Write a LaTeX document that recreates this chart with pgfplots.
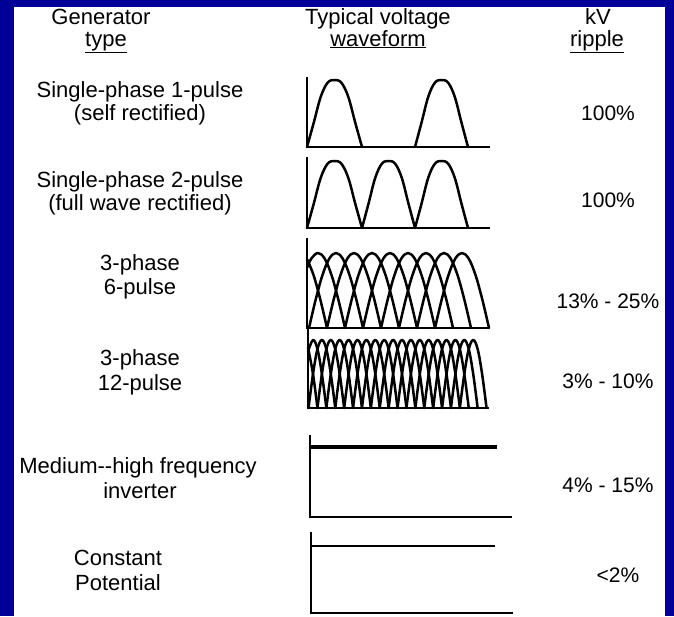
\documentclass[border=0pt]{standalone}
\usepackage{pgfplots}
\pgfplotsset{compat=1.18}
\usepackage{fontspec}
\setmainfont{Liberation Sans}
\definecolor{frameblue}{RGB}{0,0,153}
\begin{document}
\begin{tikzpicture}
\begin{axis}[
  x=1pt, y=1pt, y dir=reverse,
  xmin=0, xmax=674, ymin=0, ymax=616,
  hide axis, clip=false,
  axln/.style={black, line width=2.6pt, mark=none, line join=miter, line cap=butt},
  wave/.style={black, mark=none, smooth, tension=0.6, line width=2.5pt, line join=round, line cap=round},
]
% frame
\fill[frameblue] (axis cs:0,0) rectangle (axis cs:674,616);
\fill[white] (axis cs:14,7) rectangle (axis cs:665,616);

\pgfkeys{/tikz/lbl/.style={anchor=base, font=\fontsize{22}{24}\selectfont}}
\pgfkeys{/tikz/rlbl/.style={anchor=base, font=\fontsize{21}{24}\selectfont}}

% headers
\node[lbl] at (axis cs:101,24) {Generator};
\node[lbl] at (axis cs:106,46) {\underline{type}};
\node[lbl] at (axis cs:378,24) {Typical voltage};
\node[lbl] at (axis cs:378,46) {\underline{waveform}};
\node[lbl] at (axis cs:598,24) {kV};
\node[lbl] at (axis cs:597,46) {\underline{ripple}};

% left labels
\node[lbl] at (axis cs:140,97) {Single-phase 1-pulse};
\node[lbl] at (axis cs:140,120) {(self rectified)};
\node[lbl] at (axis cs:140,187) {Single-phase 2-pulse};
\node[lbl] at (axis cs:140,210) {(full wave rectified)};
\node[lbl] at (axis cs:140,270) {3-phase};
\node[lbl] at (axis cs:140,294) {6-pulse};
\node[lbl] at (axis cs:140,365) {3-phase};
\node[lbl] at (axis cs:140,390) {12-pulse};
\node[lbl] at (axis cs:138,473) {Medium-{}-high frequency};
\node[lbl] at (axis cs:140,498) {inverter};
\node[lbl] at (axis cs:118,565) {Constant};
\node[lbl] at (axis cs:118,590) {Potential};

% ripple
\node[rlbl] at (axis cs:608,120) {100\%};
\node[rlbl] at (axis cs:608,207) {100\%};
\node[rlbl] at (axis cs:608,308) {13\% - 25\%};
\node[rlbl] at (axis cs:608,388) {3\% - 10\%};
\node[rlbl] at (axis cs:608,492) {4\% - 15\%};
\node[rlbl] at (axis cs:618,582) {<2\%};

% ---------- panel 1: single-phase 1-pulse ----------
\addplot[axln] coordinates {(307,77) (307,147) (490,147)};
\addplot[wave] coordinates {(307,147) (313.875,122.2) (320.75,96.75) (327.625,82.7) (334.5,80) (341.375,82.7) (348.25,96.75) (355.125,122.2) (362,147)};
\addplot[wave] coordinates {(415,147) (421.625,122.2) (428.25,96.75) (434.875,82.7) (441.5,80) (448.125,82.7) (454.75,96.75) (461.375,122.2) (468,147)};

% ---------- panel 2: single-phase 2-pulse ----------
\addplot[axln] coordinates {(307,157) (307,228) (490,228)};
\addplot[wave] coordinates {(307,228) (313.875,203.2) (320.75,177.75) (327.625,163.7) (334.5,161) (341.375,163.7) (348.25,177.75) (355.125,203.2) (362,228)};
\addplot[wave] coordinates {(362,228) (368.625,203.2) (375.25,177.75) (381.875,163.7) (388.5,161) (395.125,163.7) (401.75,177.75) (408.375,203.2) (415,228)};
\addplot[wave] coordinates {(415,228) (421.625,203.2) (428.25,177.75) (434.875,163.7) (441.5,161) (448.125,163.7) (454.75,177.75) (461.375,203.2) (468,228)};

% ---------- panel 3: 3-phase 6-pulse ----------
\addplot[axln] coordinates {(307,238) (307,328) (489,328)};
\addplot[wave] coordinates {(307,259.1) (313.5,275.0) (320.25,299.3) (327,328)};
\addplot[wave] coordinates {(307,267.8) (311.25,258.7) (318,253) (324.75,258.7) (331.5,275.0) (338.25,299.3) (345,328)};
\addplot[wave] coordinates {(309,328) (315.75,299.3) (322.5,275.0) (329.25,258.7) (336,253) (342.75,258.7) (349.5,275.0) (356.25,299.3) (363,328)};
\addplot[wave] coordinates {(327,328) (333.75,299.3) (340.5,275.0) (347.25,258.7) (354,253) (360.75,258.7) (367.5,275.0) (374.25,299.3) (381,328)};
\addplot[wave] coordinates {(345,328) (351.75,299.3) (358.5,275.0) (365.25,258.7) (372,253) (378.75,258.7) (385.5,275.0) (392.25,299.3) (399,328)};
\addplot[wave] coordinates {(363,328) (369.75,299.3) (376.5,275.0) (383.25,258.7) (390,253) (396.75,258.7) (403.5,275.0) (410.25,299.3) (417,328)};
\addplot[wave] coordinates {(381,328) (387.75,299.3) (394.5,275.0) (401.25,258.7) (408,253) (414.75,258.7) (421.5,275.0) (428.25,299.3) (435,328)};
\addplot[wave] coordinates {(399,328) (405.75,299.3) (412.5,275.0) (419.25,258.7) (426,253) (432.75,258.7) (439.5,275.0) (446.25,299.3) (453,328)};
\addplot[wave] coordinates {(417,328) (423.75,299.3) (430.5,275.0) (437.25,258.7) (444,253) (450.75,258.7) (457.5,275.0) (464.25,299.3) (471,328)};
\addplot[wave] coordinates {(435,328) (441.75,299.3) (448.5,275.0) (455.25,258.7) (462,253) (468.75,258.7) (475.5,275.0) (482.25,299.3) (489,328)};

% ---------- panel 4: 3-phase 12-pulse ----------
\addplot[axln] coordinates {(308,328) (308,408) (489,408)};
\addplot[wave] coordinates {(308,347.5) (313,374) (317.45,408)};
\addplot[wave] coordinates {(308,351.5) (313,340) (317.45,349.1) (321.9,374) (326.35,408)};
\addplot[wave] coordinates {(308.55,408) (313,374) (317.45,349.1) (321.9,340) (326.35,349.1) (330.8,374) (335.25,408)};
\addplot[wave] coordinates {(317.45,408) (321.9,374) (326.35,349.1) (330.8,340) (335.25,349.1) (339.7,374) (344.15,408)};
\addplot[wave] coordinates {(326.35,408) (330.8,374) (335.25,349.1) (339.7,340) (344.15,349.1) (348.6,374) (353.05,408)};
\addplot[wave] coordinates {(335.25,408) (339.7,374) (344.15,349.1) (348.6,340) (353.05,349.1) (357.5,374) (361.95,408)};
\addplot[wave] coordinates {(344.15,408) (348.6,374) (353.05,349.1) (357.5,340) (361.95,349.1) (366.4,374) (370.85,408)};
\addplot[wave] coordinates {(353.05,408) (357.5,374) (361.95,349.1) (366.4,340) (370.85,349.1) (375.3,374) (379.75,408)};
\addplot[wave] coordinates {(361.95,408) (366.4,374) (370.85,349.1) (375.3,340) (379.75,349.1) (384.2,374) (388.65,408)};
\addplot[wave] coordinates {(370.85,408) (375.3,374) (379.75,349.1) (384.2,340) (388.65,349.1) (393.1,374) (397.55,408)};
\addplot[wave] coordinates {(379.75,408) (384.2,374) (388.65,349.1) (393.1,340) (397.55,349.1) (402,374) (406.45,408)};
\addplot[wave] coordinates {(388.65,408) (393.1,374) (397.55,349.1) (402,340) (406.45,349.1) (410.9,374) (415.35,408)};
\addplot[wave] coordinates {(397.55,408) (402,374) (406.45,349.1) (410.9,340) (415.35,349.1) (419.8,374) (424.25,408)};
\addplot[wave] coordinates {(406.45,408) (410.9,374) (415.35,349.1) (419.8,340) (424.25,349.1) (428.7,374) (433.15,408)};
\addplot[wave] coordinates {(415.35,408) (419.8,374) (424.25,349.1) (428.7,340) (433.15,349.1) (437.6,374) (442.05,408)};
\addplot[wave] coordinates {(424.25,408) (428.7,374) (433.15,349.1) (437.6,340) (442.05,349.1) (446.5,374) (450.95,408)};
\addplot[wave] coordinates {(433.15,408) (437.6,374) (442.05,349.1) (446.5,340) (450.95,349.1) (455.4,374) (459.85,408)};
\addplot[wave] coordinates {(442.05,408) (446.5,374) (450.95,349.1) (455.4,340) (459.85,349.1) (464.3,374) (468.75,408)};
\addplot[wave] coordinates {(450.95,408) (455.4,374) (459.85,349.1) (464.3,340) (468.75,349.1) (473.2,374) (477.65,408)};
\addplot[wave] coordinates {(459.85,408) (464.3,374) (468.75,349.1) (473.2,340) (477.65,349.1) (482.1,374) (486.55,408)};

% ---------- panel 5: medium-high frequency inverter ----------
\addplot[axln] coordinates {(310,435) (310,517) (512,517)};
\addplot[axln, line width=4.2pt] coordinates {(310,447) (497,447)};

% ---------- panel 6: constant potential ----------
\addplot[axln] coordinates {(311,532) (311,613) (513,613)};
\addplot[axln, line width=2.6pt] coordinates {(311,546) (495,546)};
\end{axis}
\end{tikzpicture}
\end{document}
